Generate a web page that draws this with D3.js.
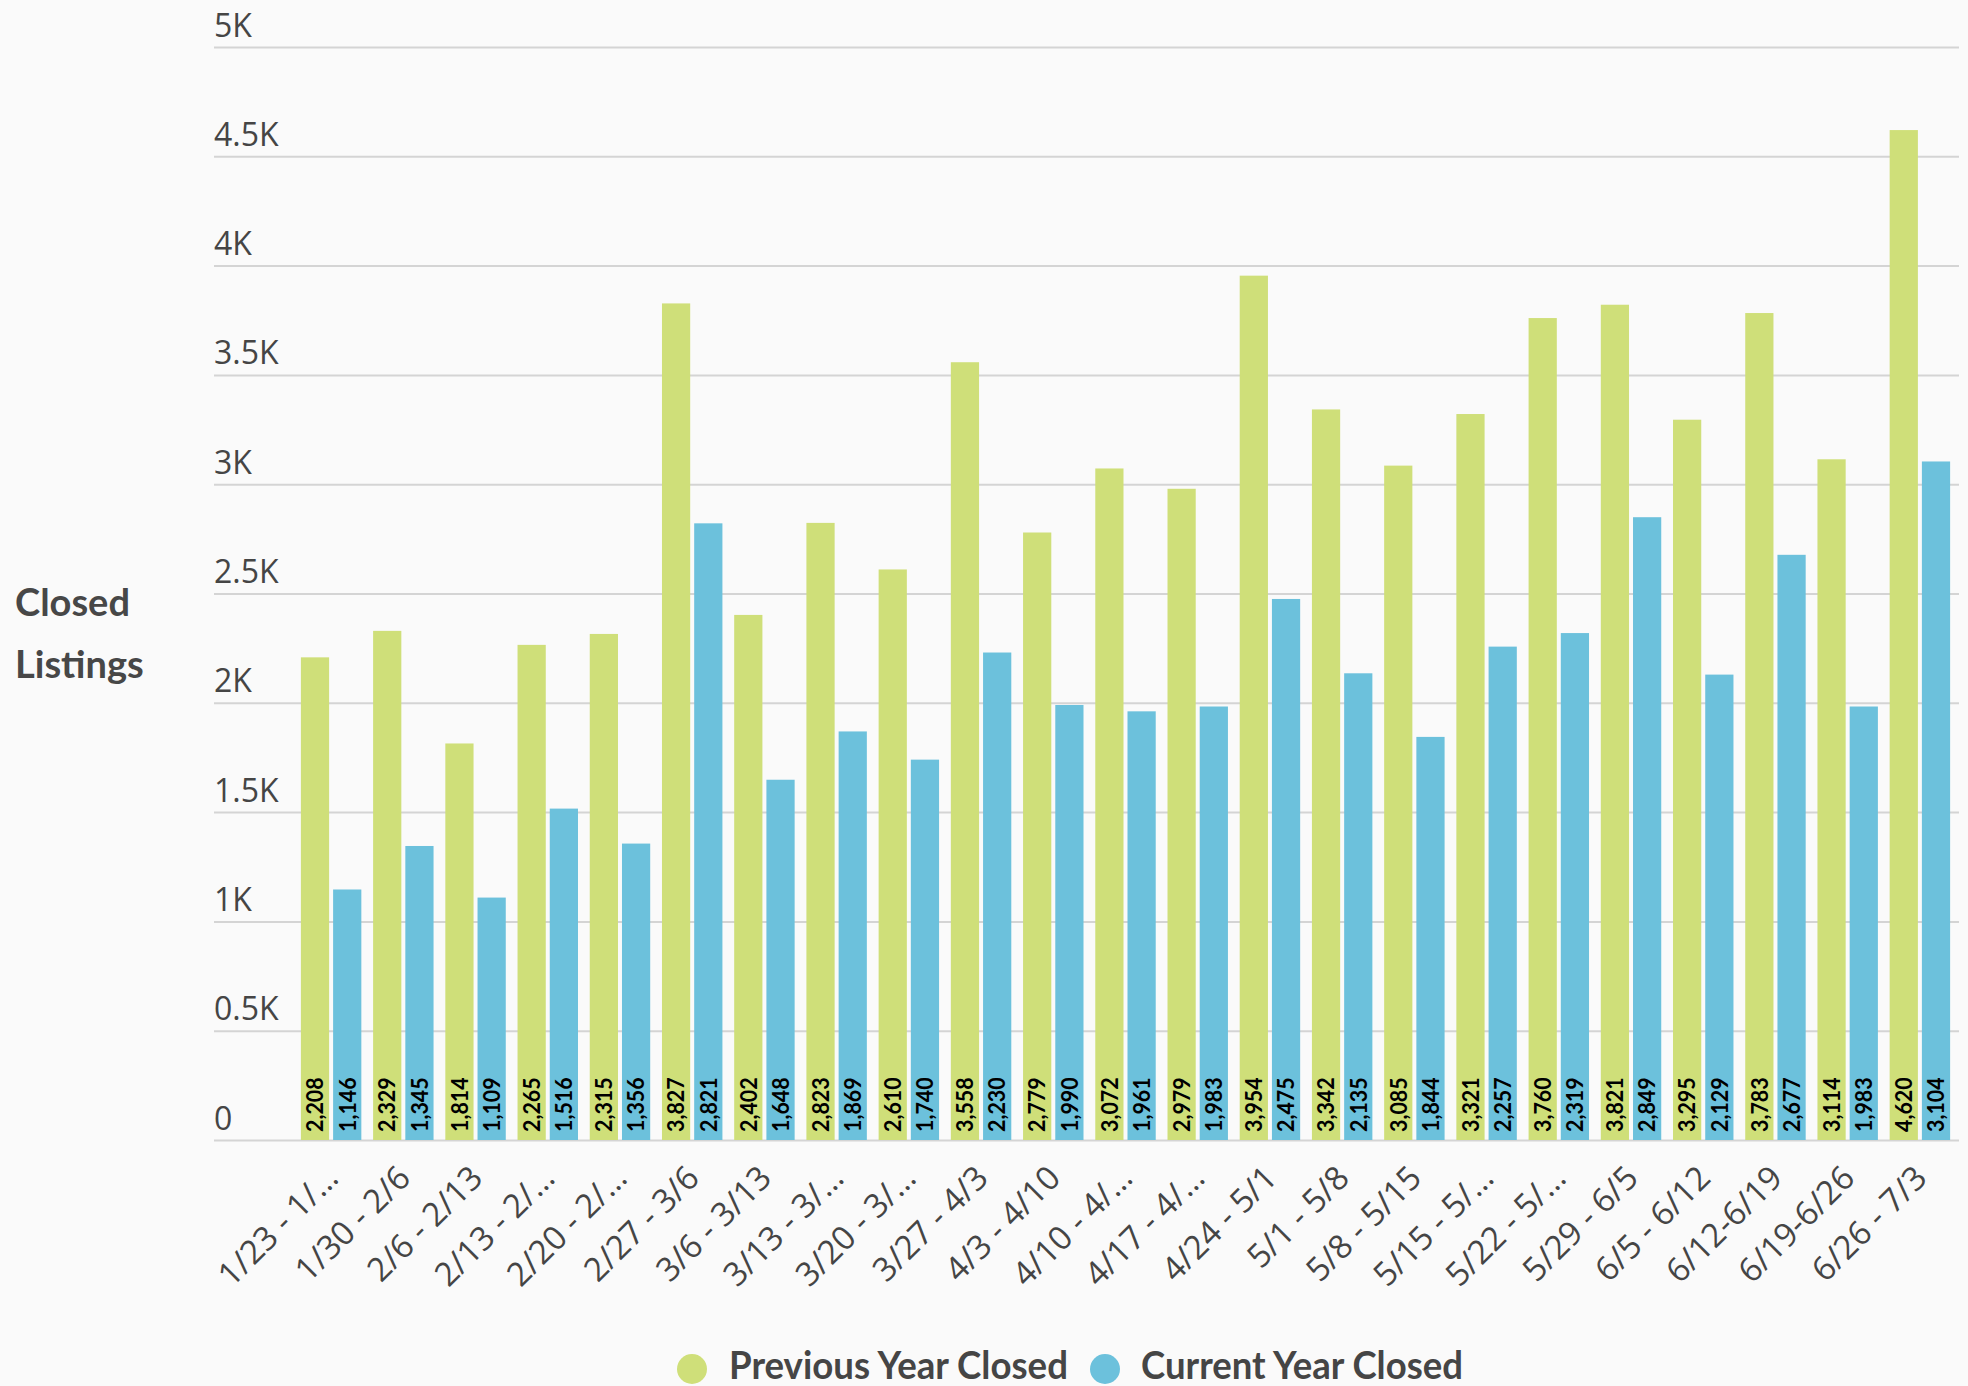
<!DOCTYPE html>
<html>
<head>
<meta charset="utf-8">
<script src="https://cdn.jsdelivr.net/npm/d3@7"></script>
<style>
  html, body { margin: 0; padding: 0; background: #fafafa; }
  svg { display: block; }
</style>
</head>
<body>
<svg id="chart" width="1968" height="1386"></svg>
<script>
const categories = ["1/23 - 1/…","1/30 - 2/6","2/6 - 2/13","2/13 - 2/…","2/20 - 2/…","2/27 - 3/6","3/6 - 3/13","3/13 - 3/…","3/20 - 3/…","3/27 - 4/3","4/3 - 4/10","4/10 - 4/…","4/17 - 4/…","4/24 - 5/1","5/1 - 5/8","5/8 - 5/15","5/15 - 5/…","5/22 - 5/…","5/29 - 6/5","6/5 - 6/12","6/12-6/19","6/19-6/26","6/26 - 7/3"];
const previousYear = [2208,2329,1814,2265,2315,3827,2402,2823,2610,3558,2779,3072,2979,3954,3342,3085,3321,3760,3821,3295,3783,3114,4620];
const currentYear  = [1146,1345,1109,1516,1356,2821,1648,1869,1740,2230,1990,1961,1983,2475,2135,1844,2257,2319,2849,2129,2677,1983,3104];
const yTicks = [0,500,1000,1500,2000,2500,3000,3500,4000,4500,5000];
const yTickLabels = ["0","0.5K","1K","1.5K","2K","2.5K","3K","3.5K","4K","4.5K","5K"];
const seriesNames = ["Previous Year Closed","Current Year Closed"];
const seriesColors = ["#cfdf79","#6cc1dc"];
const yTitle = ["Closed","Listings"];

const svg = d3.select("#chart");
const gridLeft = 214, gridRight = 1959;
const y = d3.scaleLinear().domain([0,5000]).range([1140,47]);
const x0 = d3.scaleBand().domain(categories).range([295,1956]).paddingInner(0.163).paddingOuter(0.0815);
const x1 = d3.scaleBand().domain([0,1]).range([0,x0.bandwidth()]).paddingInner(0.124);

// gridlines + tick labels
const yAxis = d3.axisLeft(y).tickValues(yTicks).tickSize(-(gridRight-gridLeft)).tickFormat((d,i)=>yTickLabels[i]);
const ga = svg.append("g").attr("transform",`translate(${gridLeft},0)`).call(yAxis);
ga.select(".domain").remove();
ga.selectAll(".tick line").attr("stroke","#d4d4d4").attr("stroke-width",2).attr("x1",0).attr("x2",gridRight-gridLeft);
ga.selectAll(".tick text")
  .attr("x",0).attr("dy",-11).attr("text-anchor","start")
  .attr("font-family","'Open Sans', sans-serif").attr("font-size",32).attr("fill","#454545");

// bars
const rows = categories.map((c,i)=>({c, vals:[previousYear[i], currentYear[i]]}));
const groups = svg.append("g").selectAll("g").data(rows).join("g")
  .attr("transform", d=>`translate(${x0(d.c)},0)`);
groups.selectAll("rect").data(d=>d.vals.map((v,k)=>({v,k}))).join("rect")
  .attr("x", d=>x1(d.k)).attr("width", x1.bandwidth())
  .attr("y", d=>y(d.v)).attr("height", d=>y(0)-y(d.v))
  .attr("fill", d=>seriesColors[d.k]);

// value labels
const fmt = d3.format(",");
groups.selectAll("text.val").data(d=>d.vals.map((v,k)=>({v,k}))).join("text")
  .attr("class","val")
  .attr("transform", d=>`translate(${x1(d.k)+x1.bandwidth()/2},${y(0)-8}) rotate(-90)`)
  .attr("dy","0.36em")
  .attr("font-family","Lato, sans-serif").attr("font-weight",700).attr("font-size",23)
  .attr("fill","#000")
  .text(d=>fmt(d.v))
  .each(function(){ const l=this.getComputedTextLength(); d3.select(this).attr("textLength", l*0.93).attr("lengthAdjust","spacingAndGlyphs"); });

// x labels
svg.append("g").selectAll("text").data(categories).join("text")
  .attr("transform", d=>`translate(${x0(d)+x0.bandwidth()/2+9},1180) rotate(-45)`)
  .attr("text-anchor","end")
  .attr("font-family","'Open Sans', sans-serif").attr("font-size",33).attr("fill","#454545")
  .text(d=>d);

// y title
svg.append("text").attr("x",15).attr("y",616)
  .attr("font-family","Lato, sans-serif").attr("font-weight",700).attr("font-size",38).attr("fill","#474747")
  .selectAll("tspan").data(yTitle).join("tspan")
  .attr("x",15).attr("dy",(d,i)=>i===0?0:62).text(d=>d);

// legend
const legendItems = [{cx:692, tx:729, w:339},{cx:1105, tx:1141, w:322}];
const lg = svg.append("g");
seriesNames.forEach((name,i)=>{
  lg.append("circle").attr("cx",legendItems[i].cx).attr("cy",1369).attr("r",15).attr("fill",seriesColors[i]);
  lg.append("text").attr("x",legendItems[i].tx).attr("y",1379)
    .attr("font-family","Lato, sans-serif").attr("font-weight",700).attr("font-size",39).attr("fill","#454545")
    .attr("textLength",legendItems[i].w).attr("lengthAdjust","spacingAndGlyphs")
    .text(name);
});
</script>
</body>
</html>
